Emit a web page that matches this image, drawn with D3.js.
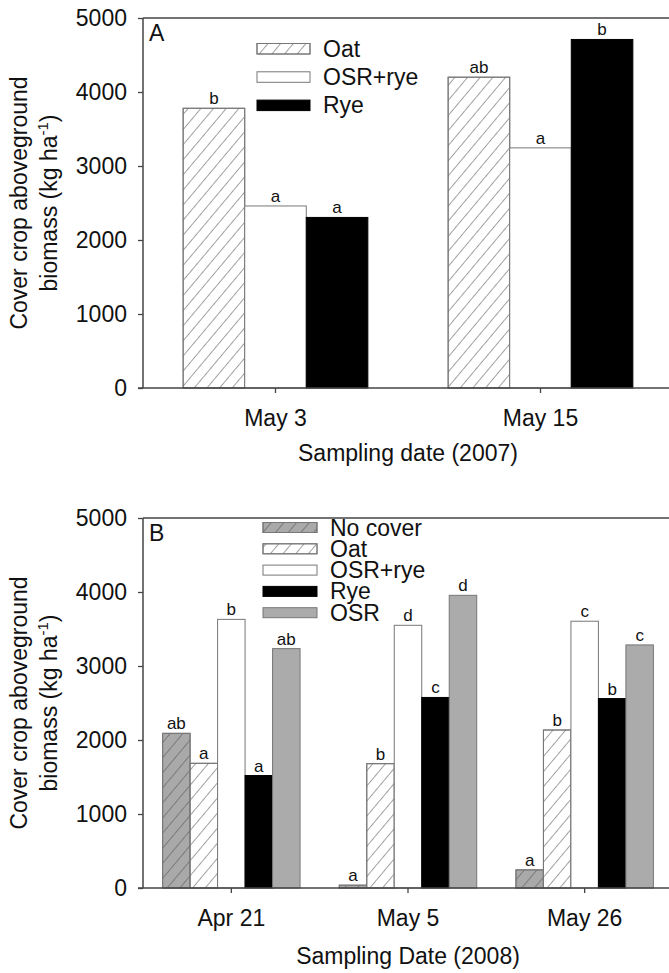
<!DOCTYPE html>
<html><head><meta charset="utf-8">
<script src="https://cdn.jsdelivr.net/npm/d3@7"></script>
<style>
html,body{margin:0;padding:0;background:#fff;}
text{font-family:"Liberation Sans",Arial,Helvetica,sans-serif;fill:#111;}
</style></head>
<body>
<svg id="chart" width="669" height="973"></svg>
<script>
// ---------- data ----------
const datesA = ["May 3", "May 15"];
const seriesA = ["Oat", "OSR+rye", "Rye"];
const valuesA = {
  "Oat":     [3780, 4200],
  "OSR+rye": [2460, 3245],
  "Rye":     [2305, 4710]
};
const lettersA = {
  "Oat":     ["b", "ab"],
  "OSR+rye": ["a", "a"],
  "Rye":     ["a", "b"]
};

const datesB = ["Apr 21", "May 5", "May 26"];
const seriesB = ["No cover", "Oat", "OSR+rye", "Rye", "OSR"];
const valuesB = {
  "No cover": [2090, 38, 245],
  "Oat":      [1685, 1680, 2135],
  "OSR+rye":  [3630, 3550, 3605],
  "Rye":      [1520, 2575, 2560],
  "OSR":      [3235, 3955, 3285]
};
const lettersB = {
  "No cover": ["ab", "a", "a"],
  "Oat":      ["a", "b", "b"],
  "OSR+rye":  ["b", "d", "c"],
  "Rye":      ["a", "c", "b"],
  "OSR":      ["ab", "d", "c"]
};
const yTicks = [0, 1000, 2000, 3000, 4000, 5000];

// ---------- styles ----------
const styles = {
  "No cover": {fill: "#a9a9a9", hatch: true},
  "Oat":      {fill: "#ffffff", hatch: true},
  "OSR+rye":  {fill: "#ffffff", hatch: false},
  "Rye":      {fill: "#000000", hatch: false},
  "OSR":      {fill: "#ababab", hatch: false}
};

const FS = 23;
const svg = d3.select("#chart");
const defs = svg.append("defs");
const pat = defs.append("pattern").attr("id", "hatch")
  .attr("patternUnits", "userSpaceOnUse")
  .attr("width", 9.7).attr("height", 10)
  .attr("patternTransform", "rotate(40)");
pat.append("line").attr("x1", 0).attr("y1", 0).attr("x2", 0).attr("y2", 10)
  .attr("stroke", "#555").attr("stroke-width", 1.1);

const FONT = "Liberation Sans, Arial, sans-serif";

function drawPanel(cfg) {
  const {dates, series, values, letters, top, bottom, left, right, label,
         legendX, legendTop, legendStep, swW, swH, xTitle, padInner, titleY} = cfg;
  const g = svg.append("g");
  const y = d3.scaleLinear().domain([0, 5000]).range([bottom, top]);
  const x0 = d3.scaleBand().domain(dates).range([left, right])
    .paddingInner(padInner).paddingOuter(padInner / 2);
  const x1 = d3.scaleBand().domain(series).range([0, x0.bandwidth()]);

  // bars
  series.forEach(s => {
    dates.forEach((d, i) => {
      const v = values[s][i];
      const bx = x0(d) + x1(s);
      const st = styles[s];
      g.append("rect").attr("x", bx).attr("y", y(v))
        .attr("width", x1.bandwidth()).attr("height", y(0) - y(v))
        .attr("fill", st.fill).attr("stroke", s === "Rye" ? "#000" : "#777")
        .attr("stroke-width", 1);
      if (st.hatch) {
        g.append("rect").attr("x", bx).attr("y", y(v))
          .attr("width", x1.bandwidth()).attr("height", y(0) - y(v))
          .attr("fill", "url(#hatch)").attr("stroke", "#777").attr("stroke-width", 1);
      }
      g.append("text").attr("x", bx + x1.bandwidth() / 2).attr("y", y(v) - 4)
        .attr("text-anchor", "middle").attr("font-size", 17)
        .text(letters[s][i]);
    });
  });

  // axes
  const ya = g.append("g").attr("transform", `translate(${left},0)`)
    .call(d3.axisLeft(y).tickValues(yTicks).tickSize(5).tickPadding(11).tickFormat(d3.format("d")));
  ya.select(".domain").remove();
  ya.selectAll("line").attr("stroke", "#444").attr("stroke-width", 1.3);
  ya.selectAll("text").attr("font-size", FS).attr("font-family", FONT).attr("fill", "#111");

  const xa = g.append("g").attr("transform", `translate(0,${bottom})`)
    .call(d3.axisBottom(x0).tickSize(5).tickPadding(17));
  xa.select(".domain").remove();
  xa.selectAll("line").attr("stroke", "#444").attr("stroke-width", 1.3);
  xa.selectAll("text").attr("font-size", FS).attr("font-family", FONT).attr("fill", "#111");

  // frame lines
  g.append("line").attr("x1", left).attr("x2", left).attr("y1", top).attr("y2", bottom)
    .attr("stroke", "#444").attr("stroke-width", 1.5);
  g.append("line").attr("x1", left - 5).attr("x2", right).attr("y1", bottom).attr("y2", bottom)
    .attr("stroke", "#444").attr("stroke-width", 1.5);
  g.append("line").attr("x1", left).attr("x2", right).attr("y1", top).attr("y2", top)
    .attr("stroke", "#444").attr("stroke-width", 1.5);
  g.append("line").attr("x1", right).attr("x2", right).attr("y1", top).attr("y2", bottom)
    .attr("stroke", "#444").attr("stroke-width", 1.5);

  // panel label
  g.append("text").attr("x", left + 6).attr("y", top + 23).attr("font-size", FS).text(label);

  // legend
  series.forEach((s, i) => {
    const ly = legendTop + i * legendStep;
    const st = styles[s];
    g.append("rect").attr("x", legendX).attr("y", ly).attr("width", swW).attr("height", swH)
      .attr("fill", st.fill).attr("stroke", s === "Rye" ? "#000" : "#777");
    if (st.hatch) {
      g.append("rect").attr("x", legendX).attr("y", ly).attr("width", swW).attr("height", swH)
        .attr("fill", "url(#hatch)").attr("stroke", "#777");
    }
    g.append("text").attr("x", legendX + swW + 13).attr("y", ly + swH / 2 + 8)
      .attr("font-size", FS).text(s);
  });

  // x title
  g.append("text").attr("x", (left + right) / 2).attr("y", titleY)
    .attr("text-anchor", "middle").attr("font-size", FS).text(xTitle);

  // y title (two lines)
  const cy = (top + bottom) / 2;
  g.append("text").attr("transform", `translate(27,${cy}) rotate(-90)`)
    .attr("text-anchor", "middle").attr("font-size", FS).text("Cover crop aboveground");
  const t2 = g.append("text").attr("transform", `translate(57,${cy}) rotate(-90)`)
    .attr("text-anchor", "middle").attr("font-size", FS);
  t2.append("tspan").text("biomass (kg ha");
  t2.append("tspan").attr("font-size", 15).attr("dy", -9).text("-1");
  t2.append("tspan").attr("dy", 9).text(")");
}

drawPanel({
  dates: datesA, series: seriesA, values: valuesA, letters: lettersA,
  top: 18, bottom: 388, left: 143, right: 673, label: "A",
  legendX: 257, legendTop: 43.5, legendStep: 28.3, swW: 53, swH: 10.5,
  xTitle: "Sampling date (2007)", padInner: 0.303, titleY: 461
});
drawPanel({
  dates: datesB, series: seriesB, values: valuesB, letters: lettersB,
  top: 518, bottom: 888, left: 143, right: 673, label: "B",
  legendX: 263, legendTop: 522.5, legendStep: 21.3, swW: 54, swH: 10,
  xTitle: "Sampling Date (2008)", padInner: 0.222, titleY: 964
});
</script>
</body></html>
